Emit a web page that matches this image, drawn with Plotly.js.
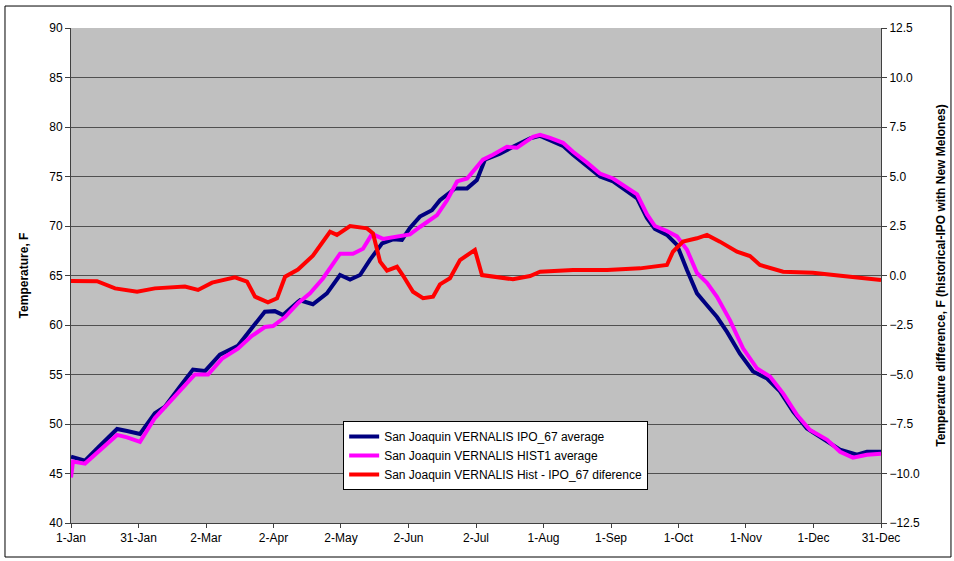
<!DOCTYPE html>
<html>
<head>
<meta charset="utf-8">
<script src="https://cdn.plot.ly/plotly-3.0.1.min.js"></script>
<style>html,body{margin:0;padding:0;background:#fff;}#chart{width:954px;height:561px;}</style>
</head>
<body>
<div id="chart"></div>
<script>
// Day-of-year samples and values
var ipoDays = [1,7.3,13.1,21.7,26.2,32,38.7,43.2,50,55.8,61.2,67.9,76,82.3,88.1,92.6,96.3,103,103.9,109.7,116,121.9,126.4,130.9,135.4,140.8,145.7,149.7,153.3,157.8,163.2,166.8,173.6,179,183.4,187,193.8,199.6,207.3,211.8,216.3,222.1,226.6,232.9,238.7,244.6,250.9,255.4,259.8,263.4,268.8,273.3,277.8,282.3,286.8,291.3,295.8,301.6,307.5,313.8,319.6,325.5,331.7,338.9,346.6,354.2,358.7,365];
var ipoTemp = [46.7,46.3,47.6,49.5,49.3,49.0,51.1,51.75,53.8,55.5,55.35,57.0,57.9,59.7,61.35,61.4,61.0,62.35,62.5,62.1,63.2,65.05,64.6,65.05,66.6,68.25,68.65,68.6,69.8,70.95,71.6,72.6,73.8,73.8,74.65,76.7,77.3,78.0,78.85,79.1,78.7,78.1,77.2,76.1,75.0,74.5,73.5,72.8,70.8,69.7,69.1,68.1,65.55,63.2,62.0,60.8,59.3,57.1,55.3,54.6,53.3,51.25,49.55,48.55,47.4,46.9,47.2,47.2];

var histDays = [1,1.9,7.3,21.7,26.2,32,38.7,50,56.7,62.6,68.9,76,82.3,88.1,91.8,97.2,103,108.4,114.2,121.9,127.7,132.2,136.3,141.2,147.5,153.3,157.8,165.5,170,174.5,179,186.1,190.6,196.9,201.4,208.6,211.8,216.3,222.1,226.6,232.9,238.7,244.6,250.9,255.4,259.8,263.4,268.8,273.3,277.8,282.3,286.8,291.3,297.1,303,309.3,315.1,321,327.3,333.1,340.8,346.6,352.4,358.7,365];
var histTemp = [44.6,46.2,46.0,48.9,48.65,48.2,50.6,53.3,55.0,55.0,56.6,57.6,58.9,59.8,59.9,60.8,62.2,63.2,64.7,67.2,67.2,67.7,69.2,68.7,68.9,69.15,69.9,71.1,72.6,74.5,74.8,76.7,77.2,78.0,77.9,79.0,79.2,78.9,78.4,77.5,76.4,75.3,74.8,73.8,73.2,71.2,70.0,69.5,68.95,67.6,65.25,64.25,62.85,60.5,57.65,55.6,54.8,53.1,50.9,49.4,48.4,47.2,46.6,46.9,47.0];

var diffDays = [1,12.7,20.8,30.7,38.7,52.2,58.1,64.4,74.7,80.1,83.7,89.5,93.6,97.2,103,109.7,117.4,120.5,126.4,134,136.7,139.9,143,147.5,150.2,154.7,159.2,163.7,166.8,171.3,175.8,182.5,185.7,193.8,199.6,207.3,211.8,226.6,241.9,256.7,268.8,271.5,276,282.3,286.8,292.6,300.3,306.1,310.6,321,334.4,347.9,365];
var diffVal = [-0.28,-0.29,-0.65,-0.82,-0.65,-0.56,-0.73,-0.36,-0.09,-0.31,-1.07,-1.36,-1.15,-0.06,0.3,1.0,2.21,2.05,2.5,2.38,2.13,0.7,0.25,0.44,0.0,-0.82,-1.15,-1.07,-0.45,-0.14,0.78,1.29,0.02,-0.09,-0.19,-0.03,0.19,0.28,0.28,0.36,0.53,1.2,1.71,1.88,2.05,1.71,1.2,0.98,0.53,0.19,0.14,-0.03,-0.23];

var tickDays = [1,31.33,61.67,92,122.33,152.67,183,213.33,243.67,274,304.33,334.67,365];
var tickLabels = ['1-Jan','31-Jan','2-Mar','2-Apr','2-May','2-Jun','2-Jul','1-Aug','1-Sep','1-Oct','1-Nov','1-Dec','31-Dec'];

var seriesNames = ['San Joaquin VERNALIS IPO_67 average','San Joaquin VERNALIS HIST1 average','San Joaquin VERNALIS Hist - IPO_67 diference'];

var font = 'Arial, "Liberation Sans", sans-serif';

var traces = [
  {x: ipoDays, y: ipoTemp, name: seriesNames[0], type: 'scatter', mode: 'lines', line: {color: '#000080', width: 4}},
  {x: histDays, y: histTemp, name: seriesNames[1], type: 'scatter', mode: 'lines', line: {color: '#FF00FF', width: 4}},
  {x: diffDays, y: diffVal, name: seriesNames[2], type: 'scatter', mode: 'lines', yaxis: 'y2', line: {color: '#FF0000', width: 4}}
];

var layout = {
  width: 954, height: 561,
  margin: {l: 71, r: 73, t: 28, b: 38},
  paper_bgcolor: '#FFFFFF',
  plot_bgcolor: '#C0C0C0',
  font: {family: font, size: 12, color: '#000'},
  showlegend: true,
  legend: {
    x: 0.336, y: 0.206, xanchor: 'left', yanchor: 'top',
    bgcolor: '#FFFFFF', bordercolor: '#000', borderwidth: 1,
    font: {family: font, size: 12, color: '#000'},
    tracegroupgap: 0, itemwidth: 30
  },
  xaxis: {
    range: [1, 365], tickmode: 'array', tickvals: tickDays, ticktext: tickLabels,
    showgrid: false, zeroline: false, showline: true, linecolor: '#404040', linewidth: 1,
    ticks: 'outside', ticklen: 4, tickcolor: '#404040', tickfont: {size: 12}
  },
  yaxis: {
    range: [40, 90], dtick: 5, tick0: 40,
    showgrid: true, gridcolor: '#505050', gridwidth: 1, zeroline: false,
    showline: true, linecolor: '#404040', linewidth: 1,
    ticks: 'outside', ticklen: 5, tickcolor: '#404040', tickfont: {size: 12},
    title: {text: '<b>Temperature, F</b>', font: {size: 12}, standoff: 18}
  },
  yaxis2: {
    range: [-12.5, 12.5], dtick: 2.5, tick0: -12.5, tickformat: '.1f',
    overlaying: 'y', side: 'right', showgrid: false, zeroline: false,
    showline: true, linecolor: '#404040', linewidth: 1,
    ticks: 'outside', ticklen: 5, tickcolor: '#404040', tickfont: {size: 12},
    title: {text: '<b>Temperature difference, F (historical-IPO with New Melones)</b>', font: {size: 12}, standoff: 17}
  },
  shapes: [
    {type: 'rect', xref: 'paper', yref: 'paper', x0: -0.0815, x1: 1.0864, y0: -0.0687, y1: 1.0444,
     line: {color: '#000', width: 1}, fillcolor: 'rgba(0,0,0,0)', layer: 'below'}
  ]
};

Plotly.newPlot('chart', traces, layout, {staticPlot: true, displayModeBar: false});
</script>
</body>
</html>
